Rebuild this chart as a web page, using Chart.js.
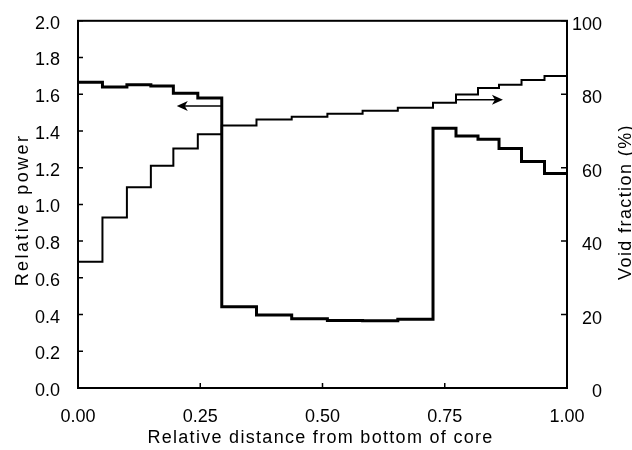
<!DOCTYPE html>
<html>
<head>
<meta charset="utf-8">
<script src="https://cdn.jsdelivr.net/npm/chart.js@4.4.1/dist/chart.umd.min.js"></script>
<style>
  html, body { margin: 0; padding: 0; background: #fff; }
  #wrap { width: 632px; height: 450px; }
</style>
</head>
<body>
<div id="wrap"><canvas id="chart" width="632" height="450"></canvas></div>
<script>
/* ── Data ── */
// node boundaries along the core (relative distance from bottom)
const edges = [0, 0.050, 0.100, 0.149, 0.195, 0.245, 0.294, 0.365, 0.437, 0.510,
               0.582, 0.654, 0.726, 0.773, 0.818, 0.861, 0.907, 0.954, 1.0];
// one value per node
const relPower = [1.665, 1.639, 1.652, 1.645, 1.606, 1.579,
                  0.443, 0.398, 0.377, 0.367, 0.366, 0.374,
                  1.415, 1.372, 1.355, 1.305, 1.234, 1.168];
const voidFrac = [34.4, 46.4, 54.7, 60.5, 65.2, 69.1,
                  71.5, 73.1, 73.9, 74.7, 75.5, 76.3,
                  77.7, 79.9, 81.7, 82.6, 83.9, 85.0];
const xTicks = [0, 0.25, 0.5, 0.75, 1];
const powerTicks = [0, 0.2, 0.4, 0.6, 0.8, 1.0, 1.2, 1.4, 1.6, 1.8, 2.0];
const voidTicks = [0, 20, 40, 60, 80, 100];
// arrows: [from x, to x, value]
const powerArrow = [0.294, 0.202, 1.536];
const voidArrow = [0.773, 0.869, 78.5];

const FONT = "'Liberation Sans', Arial, sans-serif";

// value i holds from edges[i] to edges[i+1]; last edge repeats the last value
function stepPoints(vals) {
  return edges.map((x, i) => ({ x, y: vals[Math.min(i, vals.length - 1)] }));
}

/* ── Frame, inward ticks, arrows, titles ── */
function arrow(ctx, x1, x2, y) {
  const dir = Math.sign(x2 - x1);
  ctx.beginPath();
  ctx.moveTo(x1, y);
  ctx.lineTo(x2 - dir * 4, y);
  ctx.stroke();
  ctx.beginPath();
  ctx.moveTo(x2, y);
  ctx.lineTo(x2 - dir * 11, y - 5);
  ctx.lineTo(x2 - dir * 8, y);
  ctx.lineTo(x2 - dir * 11, y + 5);
  ctx.closePath();
  ctx.fill();
}

function title(ctx, text, x, y, rot, spacing) {
  ctx.save();
  ctx.translate(x, y);
  ctx.rotate(rot);
  ctx.font = `18px ${FONT}`;
  ctx.letterSpacing = spacing + 'px';
  ctx.textAlign = 'center';
  ctx.textBaseline = 'alphabetic';
  ctx.fillText(text, 0, 0);
  ctx.restore();
}

const framePlugin = {
  id: 'frame',
  afterDraw(chart) {
    const { ctx, chartArea: a, scales } = chart;
    ctx.save();
    ctx.strokeStyle = '#000';
    ctx.fillStyle = '#000';
    ctx.lineWidth = 2;
    ctx.strokeRect(a.left, a.top, a.right - a.left, a.bottom - a.top);

    ctx.lineWidth = 1.5;
    ctx.beginPath();
    powerTicks.forEach(v => {
      const y = scales.y.getPixelForValue(v);
      ctx.moveTo(a.left, y); ctx.lineTo(a.left + 5, y);
    });
    voidTicks.forEach(v => {
      const y = scales.y2.getPixelForValue(v);
      ctx.moveTo(a.right, y); ctx.lineTo(a.right - 6, y);
    });
    xTicks.slice(1, -1).forEach(v => {
      const x = scales.x.getPixelForValue(v);
      ctx.moveTo(x, a.bottom); ctx.lineTo(x, a.bottom - 5);
    });
    ctx.stroke();

    ctx.lineWidth = 1.5;
    arrow(ctx, scales.x.getPixelForValue(powerArrow[0]), scales.x.getPixelForValue(powerArrow[1]),
          scales.y.getPixelForValue(powerArrow[2]));
    arrow(ctx, scales.x.getPixelForValue(voidArrow[0]), scales.x.getPixelForValue(voidArrow[1]),
          scales.y2.getPixelForValue(voidArrow[2]));

    title(ctx, 'Relative distance from bottom of core', (a.left + a.right) / 2 - 2, 443, 0, 1.3);
    title(ctx, 'Relative power', 28, 210, -Math.PI / 2, 2.4);
    title(ctx, 'Void fraction (%)', 631, 202, -Math.PI / 2, 1.4);
    ctx.restore();
  }
};

/* ── Chart ── */
const tickFont = { family: FONT, size: 18 };

new Chart(document.getElementById('chart'), {
  type: 'line',
  data: {
    datasets: [
      {
        label: 'Relative power',
        data: stepPoints(relPower),
        yAxisID: 'y',
        stepped: 'before',
        borderColor: '#000',
        borderWidth: 3,
        pointRadius: 0,
        fill: false
      },
      {
        label: 'Void fraction',
        data: stepPoints(voidFrac),
        yAxisID: 'y2',
        stepped: 'before',
        borderColor: '#000',
        borderWidth: 2,
        pointRadius: 0,
        fill: false
      }
    ]
  },
  options: {
    responsive: false,
    animation: false,
    devicePixelRatio: 1,
    layout: { padding: { top: 13, left: 0, right: 30, bottom: 0 } },
    plugins: { legend: { display: false }, tooltip: { enabled: false } },
    scales: {
      x: {
        type: 'linear', min: 0, max: 1,
        afterBuildTicks: s => { s.ticks = xTicks.map(v => ({ value: v })); },
        afterFit: s => { s.height = 62; },
        grid: { display: false }, border: { display: false },
        ticks: { color: '#000', font: tickFont, padding: 10, maxRotation: 0, autoSkip: false,
                 callback: v => v.toFixed(2) }
      },
      y: {
        position: 'left', min: 0, max: 2,
        afterBuildTicks: s => { s.ticks = powerTicks.map(v => ({ value: v })); },
        afterFit: s => { s.width = 78; },
        grid: { display: false }, border: { display: false },
        ticks: { color: '#000', font: tickFont, padding: 10, labelOffset: 3, autoSkip: false,
                 callback: v => v.toFixed(1) }
      },
      y2: {
        position: 'right', min: 0, max: 100,
        afterBuildTicks: s => { s.ticks = voidTicks.map(v => ({ value: v })); },
        afterFit: s => { s.width = 35; },
        grid: { display: false }, border: { display: false },
        ticks: { color: '#000', font: tickFont, padding: 6, labelOffset: 4, autoSkip: false,
                 crossAlign: 'far', callback: v => v }
      }
    }
  },
  plugins: [framePlugin]
});
</script>
</body>
</html>
